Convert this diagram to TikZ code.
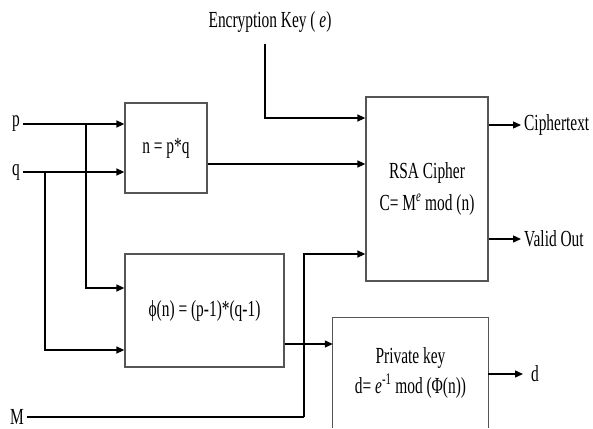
\documentclass[tikz,border=0pt]{standalone}
\usepackage{fontspec}
\setmainfont{Liberation Serif}[FakeStretch=0.67]
\usetikzlibrary{arrows.meta,calc}
\definecolor{boxgray}{HTML}{555555}
\begin{document}
\begin{tikzpicture}[x=1pt,y=-1pt,
  font=\fontsize{23}{32}\selectfont,
  box/.style={draw=boxgray, line width=1.3pt, inner sep=0pt, align=center},
  lbl/.style={inner sep=3pt},
  wire/.style={line width=1.3pt},
  arr/.style={wire,-{Triangle[length=8pt,width=7pt]}}]
\useasboundingbox (0,0) rectangle (593,428);

% boxes
\node[box, minimum width=82pt, minimum height=90pt] (nb) at (166,148) {n = p*q};
\node[box, minimum width=159pt, minimum height=113pt] (phi) at (204.5,310.5) {ϕ(n) = (p-1)*(q-1)};
\node[box, minimum width=122pt, minimum height=184pt] (rsa) at (427,189) {RSA Cipher\\C= M\textsuperscript{\textit{e}} mod (n)};
\node[inner sep=0pt, minimum width=155pt, minimum height=110pt, align=center] (pk) at (410.5,373) {Private key\\[-2pt]d= \textit{e}\textsuperscript{-1} mod (Φ(n))};
\draw[draw=boxgray, line width=1.3pt] (pk.south west) -- (pk.north west) -- (pk.north east) -- (pk.south east);

% labels
\node[lbl] (p) at (16,124) {p};
\node[lbl] (q) at (16,172) {q};
\node[inner xsep=3pt, inner ysep=0.5pt] (M) at (17,417) {M};
\node[lbl] (ek) at (270,22) {Encryption Key ( \textit{e})};
\node[anchor=west, inner sep=3pt] (ct) at (521,125) {Ciphertext};
\node[anchor=west, inner sep=3pt] (vo) at (521,239) {Valid Out};
\node[anchor=west, inner sep=8pt] (d) at (523,374) {d};

% coordinates
\coordinate (bp) at (86,124);
\coordinate (bq) at (45,172);
\coordinate (pa) at ($(phi.west)+(0,-22.5)$);
\coordinate (pb) at ($(phi.west)+(0,39.5)$);
\coordinate (ra) at ($(rsa.west)+(0,-71)$);
\coordinate (rb) at ($(rsa.west)+(0,-25)$);
\coordinate (rc) at ($(rsa.west)+(0,65)$);
\coordinate (ekt) at (265,44);
\coordinate (mx) at (304,0);
\coordinate (pkin) at ($(pk.west)+(0,-29)$);

% wires
\draw[arr] (p.east) -- (nb.west |- p);
\draw[arr] (q.east) -- (nb.west |- q);
\draw[arr] (bp) |- (pa);
\draw[arr] (bq) |- (pb);
\draw[arr] (nb.east |- rb) -- (rb);
\draw[arr] (ekt) |- (ra);
\draw[wire] (M.east) -- (M.east -| mx) coordinate (mcorner);
\draw[arr] (mcorner) |- (rc);
\draw[arr] (phi.east |- pkin) -- (pkin);
\draw[arr] (rsa.east |- ct) -- (ct.west);
\draw[arr] (rsa.east |- vo) -- (vo.west);
\draw[arr] (pk.east |- d) -- (d.west);
\end{tikzpicture}
\end{document}
